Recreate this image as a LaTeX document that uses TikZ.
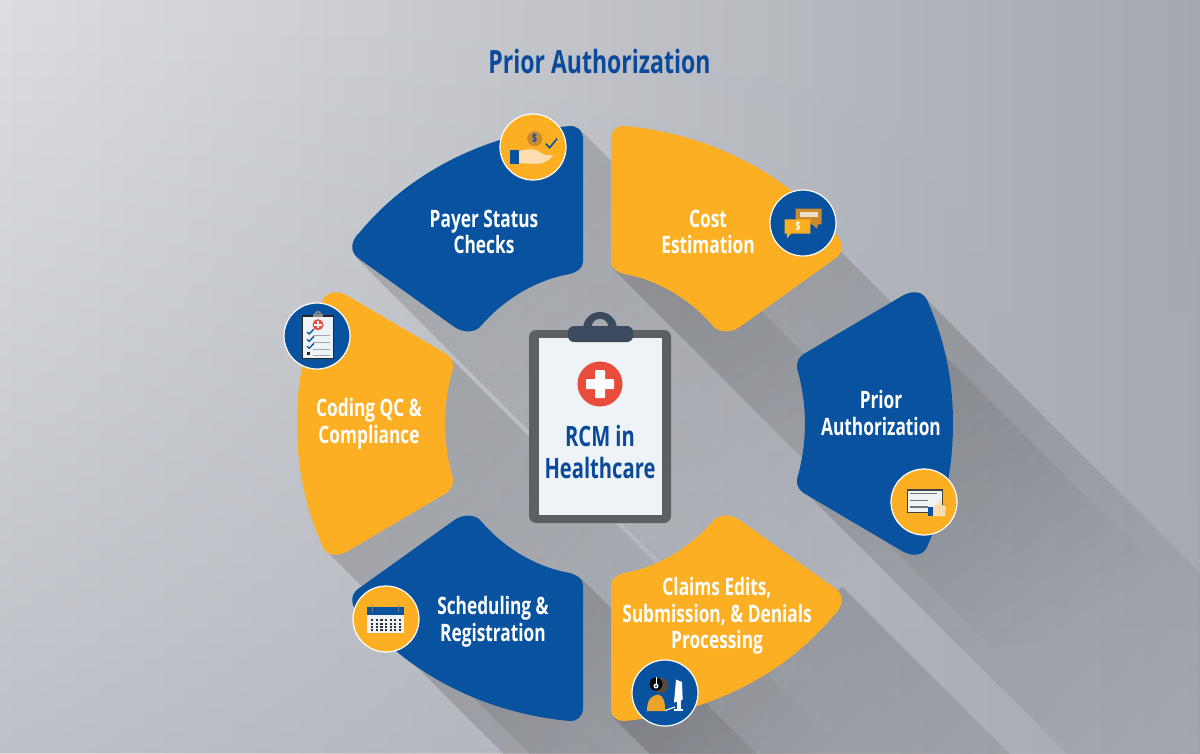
\documentclass[tikz,border=0pt]{standalone}
\usepackage{fontspec}
\setmainfont{Open Sans}[FakeStretch=0.72]
\usetikzlibrary{fadings}
\definecolor{bluec}{HTML}{08529F}
\definecolor{orangec}{HTML}{FDAF23}
\definecolor{darkor}{HTML}{C98A30}
\definecolor{skin}{HTML}{FBDDB0}
\definecolor{titleb}{HTML}{0B4A9A}
\definecolor{paperc}{HTML}{EEF3F7}
\definecolor{boardc}{HTML}{5C6065}
\definecolor{clipc}{HTML}{3B4A5F}
\definecolor{redc}{HTML}{E84C3A}
\definecolor{facec}{HTML}{5A4A40}
\definecolor{bgl}{HTML}{DCDEE1}
\definecolor{bgm}{HTML}{C6C9CE}
\definecolor{bgr}{HTML}{A5A8B0}
\definecolor{bgo}{HTML}{A9ADB6}
\tikzfading[name=sfade,left color=transparent!85,right color=transparent!100]
\tikzfading[name=vfade,top color=transparent!100,bottom color=transparent!40]
\tikzset{
  sha/.style={fill=black,path fading=sfade,fading angle=-45},
  badge/.style={circle,draw=white,line width=1.2pt,minimum size=66pt,inner sep=0pt},
  lab/.style={align=center,text=white,font=\fontsize{24}{26.5}\selectfont\bfseries,inner sep=0pt},
  ttl/.style={align=center,text=titleb,font=\fontsize{28}{32}\selectfont\bfseries,inner sep=0pt},
  gl/.style={line width=1pt,draw=black!35},
  mirx/.style={shift={(1194,0)},xscale=-1},
  miry/.style={shift={(0,847)},yscale=-1},
  mirc/.style={shift={(1250,0)},xscale=-1},
}
\newcommand{\payerpath}{(583,139) -- (583,262) .. controls (583,268) and (577,272) .. (570,274)
  .. controls (535,280) and (503,300) .. (480,327) .. controls (474,333) and (462,333) .. (453,326)
  -- (358,258) .. controls (350,252) and (350,241) .. (360,232)
  .. controls (412,169) and (491,133) .. (570,126) .. controls (578,126) and (583,131) .. (583,139) -- cycle}
\newcommand{\priorpath}{(807,352) -- (902,296) .. controls (912,290) and (923,291) .. (927,300)
  .. controls (945,340) and (953,380) .. (953,423.5) .. controls (953,467) and (945,507) .. (927,547)
  .. controls (923,556) and (912,557) .. (902,551) -- (807,495)
  .. controls (799,491) and (796,485) .. (797,479) .. controls (802,462) and (805,442) .. (805,423.5)
  .. controls (805,405) and (802,385) .. (797,368) .. controls (796,362) and (799,356) .. (807,352) -- cycle}
\newcommand{\shadowband}[4]{\fill[sha] (#1,#2) -- (#3,#4) -- (#3+380,#4+380) -- (#1+380,#2+380) -- cycle;}
\begin{document}
\begin{tikzpicture}[x=1pt,y=-1pt]
\useasboundingbox (0,0) rectangle (1200,753);
% background
\shade[left color=bgl,middle color=bgm,right color=bgr] (0,0) rectangle (1200,753);
\fill[bgo,path fading=vfade] (0,0) rectangle (1200,753);
% long shadows
\begin{scope}
\clip (0,0) rectangle (1200,753);
\shadowband{579}{128}{357}{258}
\shadowband{836}{246}{613}{268}
\shadowband{925}{297}{805}{491}
\shadowband{447}{354}{325}{549}
\shadowband{582}{579}{400}{650}
\shadowband{843}{587}{614}{718}
\end{scope}
% segments
\fill[bluec] \payerpath;
\begin{scope}[mirx]\fill[orangec] \payerpath;\end{scope}
\begin{scope}[miry]\fill[bluec] \payerpath;\end{scope}
\begin{scope}[mirx,miry]\fill[orangec] \payerpath;\end{scope}
\fill[bluec] \priorpath;
\begin{scope}[mirc]\fill[orangec] \priorpath;\end{scope}
% badges
\node[badge,fill=orangec] (bpayer) at (533,147) {};
\node[badge,fill=bluec] (bcost) at (803,223) {};
\node[badge,fill=bluec] (bcoding) at (317,336) {};
\node[badge,fill=orangec] (bprior) at (924,502) {};
\node[badge,fill=orangec] (bsched) at (386,619) {};
\node[badge,fill=bluec] (bclaims) at (665,693) {};
% payer icon
\begin{scope}[shift={(533,147)}]
\fill[skin] (-14,4) .. controls (-4,1) and (4,2) .. (8,6) .. controls (12,9) and (16,8) .. (20,8) .. controls (18,13) and (10,17) .. (2,17) -- (-14,16) -- cycle;
\fill[bluec] (-22.7,3.3) rectangle (-14,16.7);
\fill[darkor] (1.7,-8.3) circle (7.5);
\node[text=bluec,font=\fontsize{12}{12}\selectfont\bfseries,inner sep=0pt] (dpayer) at (1.7,-8.3) {\$};
\draw[bluec,line width=1.6pt] (12.7,-3.3) -- (16.7,.7) -- (24,-8.3);
\end{scope}
% cost icon
\begin{scope}[shift={(803,223)}]
\fill[darkor] (-7.3,-14.3) -- (18.7,-14.3) -- (18.7,1.3) -- (15,1.3) -- (14,5.7) -- (9,1.3) -- (-7.3,1.3) -- cycle;
\fill[black!10!skin!60!white] (-3.3,-11) rectangle (15,-6);
\fill[orangec] (-18.3,-3.7) -- (7.3,-3.7) -- (7.3,10.7) -- (-12,10.7) -- (-16,15.3) -- (-16,10.7) -- (-18.3,10.7) -- cycle;
\node[text=white,font=\fontsize{12}{12}\selectfont\bfseries,inner sep=0pt] (dcost) at (-5,3.5) {\$};
\end{scope}
% coding icon
\begin{scope}[shift={(317,336)}]
\fill[black!85] (-15.3,-21.3) rectangle (17,23.3);
\fill[paperc] (-13.8,-19.5) rectangle (15.5,21.8);
\fill[black!45] (1,-22) circle (3.2);
\fill[bluec] (1,-22) circle (1.3);
\fill[black!45] (-4,-22) rectangle (6,-19);
\fill[redc] (1,-11.3) circle (5.5);
\fill[white] (-.2,-15) rectangle (2.2,-7.6);
\fill[white] (-2.7,-12.5) rectangle (4.7,-10.1);
\draw[bluec,line width=1.3pt] (-10,-4) -- (-7.8,-2) -- (-3,-7);
\draw[bluec,line width=1.3pt] (-10,3.3) -- (-7.8,5.3) -- (-3,.3);
\draw[bluec,line width=1.3pt] (-10,10.3) -- (-7.8,12.3) -- (-3,7.3);
\draw[gl] (-4,-1) -- (12.7,-1);
\draw[gl] (-4,6) -- (12.7,6);
\draw[gl] (-4,13) -- (12.7,13);
\draw[gl] (-4,19) -- (12.7,19);
\fill[black!85] (-10.2,15.5) rectangle (-7.2,18.5);
\end{scope}
% prior icon
\begin{scope}[shift={(924,502)}]
\fill[black!75] (-17.3,-12.7) rectangle (18.7,10.7);
\fill[paperc] (-16,-11.5) rectangle (17.5,9.5);
\draw[black!55,line width=1.4pt] (-14,-8.3) -- (13,-8.3);
\draw[black!55,line width=1.4pt] (-14,-1.7) -- (4.3,-1.7);
\draw[black!55,line width=1.4pt] (-14,5) -- (4.3,5);
\fill[skin] (8.7,4) -- (13,3) -- (15,-2) -- (17.5,-1.7) -- (17,3) -- (21.7,4) -- (21,14.3) -- (8.7,14.3) -- cycle;
\fill[bluec] (4.3,5) rectangle (8.7,14.3);
\end{scope}
% scheduling icon
\begin{scope}[shift={(386,619)}]
\fill[paperc] (-18.7,-11.7) rectangle (18,14);
\fill[bluec] (-18.7,-11.7) rectangle (18,-4);
\draw[black!50,line width=1.2pt] (-13.5,-14) -- (-13.5,-7);
\draw[black!50,line width=1.2pt] (12.5,-14) -- (12.5,-7);
\foreach \cx in {0,...,6}{\foreach \cy in {0,...,3}{
  \fill[black!80] (-13.7+\cx*4.6-1.1,1.3+\cy*3.3-1) rectangle (-13.7+\cx*4.6+1.1,1.3+\cy*3.3+1);}}
\end{scope}
% claims icon
\begin{scope}[shift={(665,693)}]
\fill[darkor!35!orangec] (-18,18) .. controls (-18,7) and (-14,2.5) .. (-7,1.5) .. controls (-1,2.5) and (0,9) .. (0,18) -- cycle;
\fill[facec] (-4,-7.5) circle (7.5);
\fill[black] (-9,-9) circle (6.5);
\draw[white,line width=1pt] (-9,-16) -- (-9,-7);
\fill[paperc] (-9,-7) circle (2.6);
\fill[bluec] (-9,-7) circle (1.2);
\fill[white] (11,-13.5) -- (17,-11) -- (17.7,7) -- (9,9.5) -- cycle;
\fill[white] (12,8) rectangle (15.5,16);
\fill[white] (9,15.5) rectangle (18,17.5);
\draw[white,line width=1.1pt] (0,17.5) -- (10,14);
\end{scope}
% segment labels
\node[lab] (tpayer) at (484,232) {Payer Status\\Checks};
\node[lab] (tcost) at (708,232) {Cost\\Estimation};
\node[lab] (tprior) at (881,413) {Prior\\Authorization};
\node[lab] (tcoding) at (369,424) {Coding QC \&\\Compliance};
\node[lab] (tsched) at (493,622) {Scheduling \&\\Registration};
\node[lab] (tclaims) at (717,616) {Claims Edits,\\Submission, \& Denials\\Processing};
% title
\node[ttl,font=\fontsize{32}{36}\selectfont\bfseries] (title) at (599.5,61) {Prior Authorization};
% clipboard
\fill[boardc,rounded corners=7pt] (529,330) rectangle (671,523);
\fill[paperc] (539,338) rectangle (662,515);
\begin{scope}
\clip (570,305) rectangle (630,335);
\fill[clipc,even odd rule] (600,329) circle (17) (600,327) circle (8.3);
\end{scope}
\fill[clipc,rounded corners=6pt] (568,326) rectangle (633,342);
\fill[redc] (600,384) circle (22.5);
\fill[white,rounded corners=1pt] (595,370) rectangle (605,398);
\fill[white,rounded corners=1pt] (586,379) rectangle (614,389);
\node[ttl] (tcenter) at (600,452) {RCM in\\Healthcare};
\end{tikzpicture}
\end{document}
